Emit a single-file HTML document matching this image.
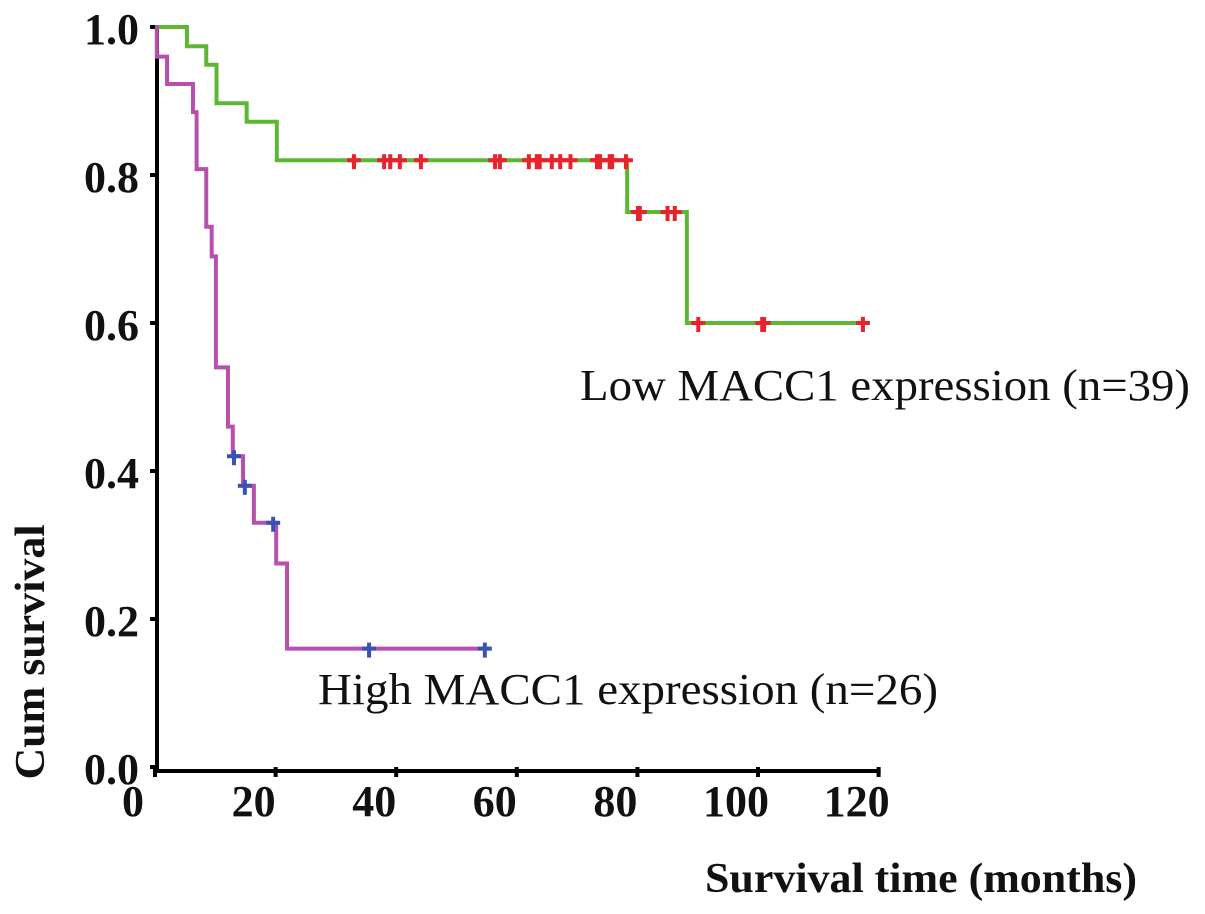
<!DOCTYPE html>
<html><head><meta charset="utf-8"><style>
html,body{margin:0;padding:0;background:#fff;}
svg{display:block;}
text{font-family:"Liberation Serif",serif;fill:#111;}
</style></head><body>
<svg id="chart" width="1205" height="914" viewBox="0 0 1205 914">
<g id="axes"></g>
<g id="series"></g>
<text x="580" y="400" font-size="44" textLength="610" lengthAdjust="spacingAndGlyphs">Low MACC1 expression (n=39)</text>
<text x="318" y="704" font-size="44" textLength="620" lengthAdjust="spacingAndGlyphs">High MACC1 expression (n=26)</text>
<text x="705" y="892" font-size="42" font-weight="bold" textLength="432" lengthAdjust="spacingAndGlyphs">Survival time (months)</text>
<text transform="translate(44,652) rotate(-90)" text-anchor="middle" font-size="42" font-weight="bold" textLength="255" lengthAdjust="spacingAndGlyphs">Cum survival</text>
</svg>
<script>
const xTicks=[0,20,40,60,80,100,120];
const yTicks=[0.0,0.2,0.4,0.6,0.8,1.0];
const yTickLabels=["0.0","0.2","0.4","0.6","0.8","1.0"];
const lowTimes=[0,5.3,8.5,10.2,15.2,20.2,78.3,88.2];
const lowSurv=[1.0,0.974,0.949,0.897,0.872,0.82,0.75,0.60];
const lowEnd=118;
const lowCensor=[33,38,39,40.6,44.1,56.4,57.2,62,63.3,63.8,65.8,67.2,68.9,73.3,73.8,75.4,75.8,78.1,80.1,80.4,85,86.2,90.1,100.7,101,117.4];
const highTimes=[0,0.3,2,6.3,6.9,8.5,9.4,10.1,12.1,12.9,14.6,16.4,20.1,21.9];
const highSurv=[1.0,0.96,0.923,0.885,0.808,0.73,0.69,0.54,0.46,0.42,0.38,0.33,0.275,0.16];
const highEnd=55.5;
const highCensor=[13.1,14.9,19.6,35.5,54.7];

const NS="http://www.w3.org/2000/svg";
const X=t=>155+t*6.03;
const Y=v=>767-v*740;
function mk(tag,attrs,parent){const e=document.createElementNS(NS,tag);for(const k in attrs)e.setAttribute(k,attrs[k]);parent.appendChild(e);return e;}
const axes=document.getElementById('axes');
const series=document.getElementById('series');

let a=mk('line',{x1:157,y1:Y(1.0),x2:157,y2:771,stroke:'#000','stroke-width':4},axes);


a=mk('line',{x1:153,y1:771,x2:X(120)+2,y2:771,stroke:'#000','stroke-width':4},axes);


xTicks.forEach(t=>{
  const tk=mk('line',{x1:X(t),y1:767,x2:X(t),y2:777,stroke:'#000','stroke-width':4},axes);
  
  
  const lb=mk('text',{x:X(t)-22,y:816,'text-anchor':'middle','font-size':44,'font-weight':'bold'},axes);
  lb.textContent=String(t);
  
  
});
yTicks.forEach((v,i)=>{
  const tk=mk('line',{x1:150,y1:Y(v),x2:157,y2:Y(v),stroke:'#000','stroke-width':4},axes);
  
  
  const lb=mk('text',{x:139,y:Y(v)+17,'text-anchor':'end','font-size':44,'font-weight':'bold'},axes);
  lb.textContent=yTickLabels[i];
  
  
});

function stepPath(times,surv,end){
  let d='M'+X(times[0])+','+Y(surv[0]);
  for(let i=1;i<times.length;i++){d+=' H'+X(times[i])+' V'+Y(surv[i]);}
  d+=' H'+X(end);return d;
}
function survAt(times,surv,t){let s=surv[0];for(let i=0;i<times.length;i++){if(times[i]<=t)s=surv[i];}return s;}

let p=mk('path',{d:stepPath(lowTimes,lowSurv,lowEnd),fill:'none',stroke:'#5cb833','stroke-width':4},series);


p=mk('path',{d:stepPath(highTimes,highSurv,highEnd),fill:'none',stroke:'#b84fae','stroke-width':4},series);



function censor(t,v,color,name){
  const g=mk('g',{},series);
  
  
  mk('line',{x1:X(t)-7,y1:Y(v),x2:X(t)+7,y2:Y(v),stroke:color,'stroke-width':4},g);
  mk('line',{x1:X(t),y1:Y(v)-6,x2:X(t),y2:Y(v)+9,stroke:color,'stroke-width':4},g);
}
lowCensor.forEach(t=>censor(t,survAt(lowTimes,lowSurv,t),'#e8232b','low-censor-mark'));
highCensor.forEach(t=>censor(t,survAt(highTimes,highSurv,t),'#3b53b0','high-censor-mark'));
</script>
</body></html>
